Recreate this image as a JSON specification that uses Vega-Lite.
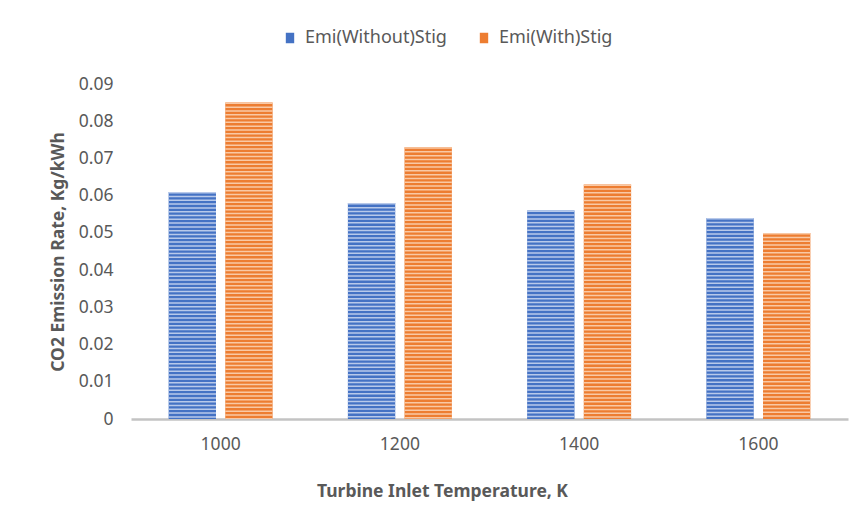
{
  "$schema": "https://vega.github.io/schema/vega-lite/v6.json",
  "autosize": {"type": "none"},
  "width": 717,
  "height": 335,
  "padding": {"left": 131, "top": 84, "right": 13, "bottom": 99},
  "background": "white",
  "config": {
    "view": {"stroke": null},
    "font": "Noto Sans",
    "axis": {"labelColor": "#595959", "titleColor": "#595959", "labelFont": "Noto Sans", "titleFont": "Noto Sans"},
    "legend": {"labelColor": "#595959", "labelFont": "Noto Sans"}
  },
  "data": {
    "values": [
      {"temp": "1000", "series": "Emi(Without)Stig", "rate": 0.061},
      {"temp": "1000", "series": "Emi(With)Stig", "rate": 0.085},
      {"temp": "1200", "series": "Emi(Without)Stig", "rate": 0.058},
      {"temp": "1200", "series": "Emi(With)Stig", "rate": 0.073},
      {"temp": "1400", "series": "Emi(Without)Stig", "rate": 0.056},
      {"temp": "1400", "series": "Emi(With)Stig", "rate": 0.063},
      {"temp": "1600", "series": "Emi(Without)Stig", "rate": 0.054},
      {"temp": "1600", "series": "Emi(With)Stig", "rate": 0.050}
    ]
  },
  "encoding": {
    "x": {
      "field": "temp",
      "type": "nominal",
      "sort": null,
      "scale": {"type": "band", "paddingInner": 0.42, "paddingOuter": 0.21},
      "axis": {
        "title": "Turbine Inlet Temperature, K",
        "titleFontWeight": "bold",
        "titleFontSize": 17.5,
        "titleX": 311,
        "titleY": 72,
        "titleBaseline": "middle",
        "titleAnchor": "middle",
        "labelAngle": 0,
        "labelFontSize": 17.5,
        "labelPadding": 16,
        "ticks": false,
        "domainColor": "#c3c3c3",
        "domainWidth": 2.5
      }
    },
    "xOffset": {
      "field": "series",
      "type": "nominal",
      "sort": ["Emi(Without)Stig", "Emi(With)Stig"],
      "scale": {"paddingInner": 0.164, "paddingOuter": 0}
    },
    "y": {
      "field": "rate",
      "type": "quantitative",
      "scale": {"domain": [0, 0.09], "nice": false},
      "axis": {
        "title": "CO2 Emission  Rate, Kg/kWh",
        "titleFontWeight": "bold",
        "titleFontSize": 17.5,
        "titlePadding": 11,
        "values": [0, 0.01, 0.02, 0.03, 0.04, 0.05, 0.06, 0.07, 0.08, 0.09],
        "labelExpr": "datum.value === 0 ? '0' : format(datum.value, '.2f')",
        "labelFontSize": 17.5,
        "labelPadding": 18,
        "ticks": false,
        "domain": false,
        "grid": false
      }
    }
  },
  "layer": [
    {
      "mark": {"type": "bar"},
      "encoding": {
        "fill": {
          "field": "series",
          "type": "nominal",
          "sort": ["Emi(Without)Stig", "Emi(With)Stig"],
          "scale": {"range": ["#4472c4", "#ed7d31"]},
          "legend": {
            "title": null,
            "orient": "none",
            "direction": "horizontal",
            "legendX": 150,
            "legendY": -55,
            "symbolType": "M-0.8,-1L0.8,-1L0.8,1L-0.8,1Z",
            "symbolSize": 110,
            "symbolStrokeWidth": 0,
            "labelFontSize": 18,
            "labelOffset": 6,
            "columnPadding": 28
          }
        }
      }
    },
    {
      "mark": {"type": "rule", "strokeWidth": 47.4, "strokeCap": "butt", "strokeDash": [1.5, 2.3]},
      "encoding": {
        "y2": {"datum": 0},
        "stroke": {
          "field": "series",
          "type": "nominal",
          "sort": ["Emi(Without)Stig", "Emi(With)Stig"],
          "scale": {"range": ["#b8c9ea", "#f9c9a5"]},
          "legend": null
        }
      }
    }
  ]
}
